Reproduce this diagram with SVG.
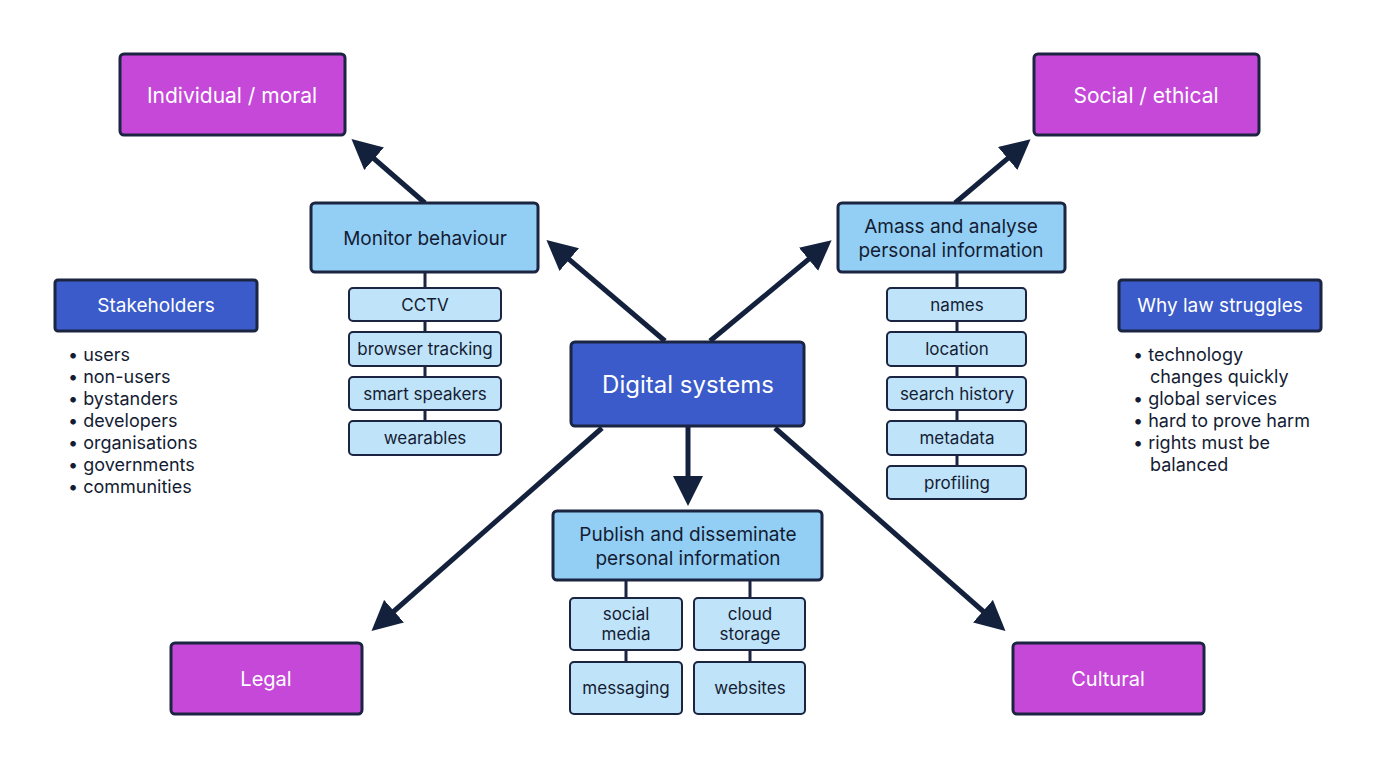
<svg xmlns="http://www.w3.org/2000/svg" width="1376" height="768" viewBox="0 0 1376 768">
<defs>
<style>
text{font-family:Inter,"Liberation Sans",sans-serif;fill:#141c33;text-anchor:middle;dominant-baseline:central}
.mag{fill:#c548d9;stroke:#1b2440;stroke-width:3}
.wt{fill:#fff}
.dk{fill:#3a5bc9;stroke:#1b2440;stroke-width:3}
.lt{fill:#93cff5;stroke:#1b2440;stroke-width:3}
.sb{fill:#bfe3f9;stroke:#1b2440;stroke-width:2}
.ln{stroke:#1b2440;stroke-width:3}
.ar{stroke:#14213d;stroke-width:5;fill:none;marker-end:url(#ah)}
.bl{text-anchor:start;font-size:18px}
</style>
<marker id="ah" viewBox="0 0 10 10" refX="8" refY="5" markerWidth="6" markerHeight="6" markerUnits="strokeWidth" orient="auto"><path d="M0,0L10,5L0,10z" fill="#14213d"/></marker>
</defs>
<rect width="1376" height="768" fill="#fff"/>
<g id="connectors">
<path class="ar" d="M425,203L356,143"/>
<path class="ar" d="M665,341L551,244"/>
<path class="ar" d="M710,341L827,244"/>
<path class="ar" d="M955,203L1026,143"/>
<path class="ar" d="M688,426L688,500"/>
<path class="ar" d="M602,428L376,627"/>
<path class="ar" d="M775,428L1001,627"/>
<path class="ln" d="M425,272V455M957,272V499M626,580V662M750,580V662"/>
</g>
<g id="individual"><rect class="mag" x="120" y="54" width="225" height="81" rx="4"/><text class="wt" x="232" y="95" font-size="21">Individual / moral</text></g>
<g id="social"><rect class="mag" x="1034" y="54" width="225" height="81" rx="4"/><text class="wt" x="1146" y="95" font-size="21">Social / ethical</text></g>
<g id="legal"><rect class="mag" x="171" y="643" width="191" height="71" rx="4"/><text class="wt" x="266" y="679" font-size="20">Legal</text></g>
<g id="cultural"><rect class="mag" x="1013" y="643" width="191" height="71" rx="4"/><text class="wt" x="1108" y="679" font-size="20">Cultural</text></g>
<g id="digital"><rect class="dk" x="571" y="342" width="233" height="84" rx="4"/><text class="wt" x="688" y="384" font-size="24">Digital systems</text></g>
<g id="stakeholders"><rect class="dk" x="55" y="280" width="202" height="51" rx="3"/><text class="wt" x="156" y="305" font-size="19">Stakeholders</text>
<text class="bl" x="68" y="354">•  users</text><text class="bl" x="68" y="376">•  non-users</text><text class="bl" x="68" y="398">•  bystanders</text><text class="bl" x="68" y="420">•  developers</text><text class="bl" x="68" y="442">•  organisations</text><text class="bl" x="68" y="464">•  governments</text><text class="bl" x="68" y="486">•  communities</text></g>
<g id="whylaw"><rect class="dk" x="1119" y="280" width="202" height="51" rx="3"/><text class="wt" x="1220" y="305" font-size="19">Why law struggles</text>
<text class="bl" x="1133" y="354">•  technology</text><text class="bl" x="1150" y="376">changes quickly</text><text class="bl" x="1133" y="398">•  global services</text><text class="bl" x="1133" y="420">•  hard to prove harm</text><text class="bl" x="1133" y="442">•  rights must be</text><text class="bl" x="1150" y="464">balanced</text></g>
<g id="monitor"><rect class="lt" x="311" y="203" width="227" height="69" rx="4"/><text x="425" y="238" font-size="19">Monitor behaviour</text>
<rect class="sb" x="349" y="288" width="152" height="33" rx="4"/><text x="425" y="305" font-size="17">CCTV</text>
<rect class="sb" x="349" y="332" width="152" height="34" rx="4"/><text x="425" y="349" font-size="17">browser tracking</text>
<rect class="sb" x="349" y="377" width="152" height="33" rx="4"/><text x="425" y="394" font-size="17">smart speakers</text>
<rect class="sb" x="349" y="421" width="152" height="34" rx="4"/><text x="425" y="438" font-size="17">wearables</text></g>
<g id="amass"><rect class="lt" x="838" y="203" width="227" height="69" rx="4"/><text x="951" y="226" font-size="19">Amass and analyse</text><text x="951" y="250" font-size="19">personal information</text>
<rect class="sb" x="887" y="288" width="139" height="33" rx="4"/><text x="957" y="305" font-size="17">names</text>
<rect class="sb" x="887" y="332" width="139" height="34" rx="4"/><text x="957" y="349" font-size="17">location</text>
<rect class="sb" x="887" y="377" width="139" height="33" rx="4"/><text x="957" y="394" font-size="17">search history</text>
<rect class="sb" x="887" y="421" width="139" height="34" rx="4"/><text x="957" y="438" font-size="17">metadata</text>
<rect class="sb" x="887" y="466" width="139" height="33" rx="4"/><text x="957" y="483" font-size="17">profiling</text></g>
<g id="publish"><rect class="lt" x="553" y="511" width="269" height="69" rx="4"/><text x="688" y="534" font-size="19">Publish and disseminate</text><text x="688" y="558" font-size="19">personal information</text>
<rect class="sb" x="570" y="598" width="112" height="52" rx="4"/><text x="626" y="614" font-size="17">social</text><text x="626" y="634" font-size="17">media</text>
<rect class="sb" x="694" y="598" width="111" height="52" rx="4"/><text x="750" y="614" font-size="17">cloud</text><text x="750" y="634" font-size="17">storage</text>
<rect class="sb" x="570" y="662" width="112" height="52" rx="4"/><text x="626" y="688" font-size="17">messaging</text>
<rect class="sb" x="694" y="662" width="111" height="52" rx="4"/><text x="750" y="688" font-size="17">websites</text></g>
</svg>
